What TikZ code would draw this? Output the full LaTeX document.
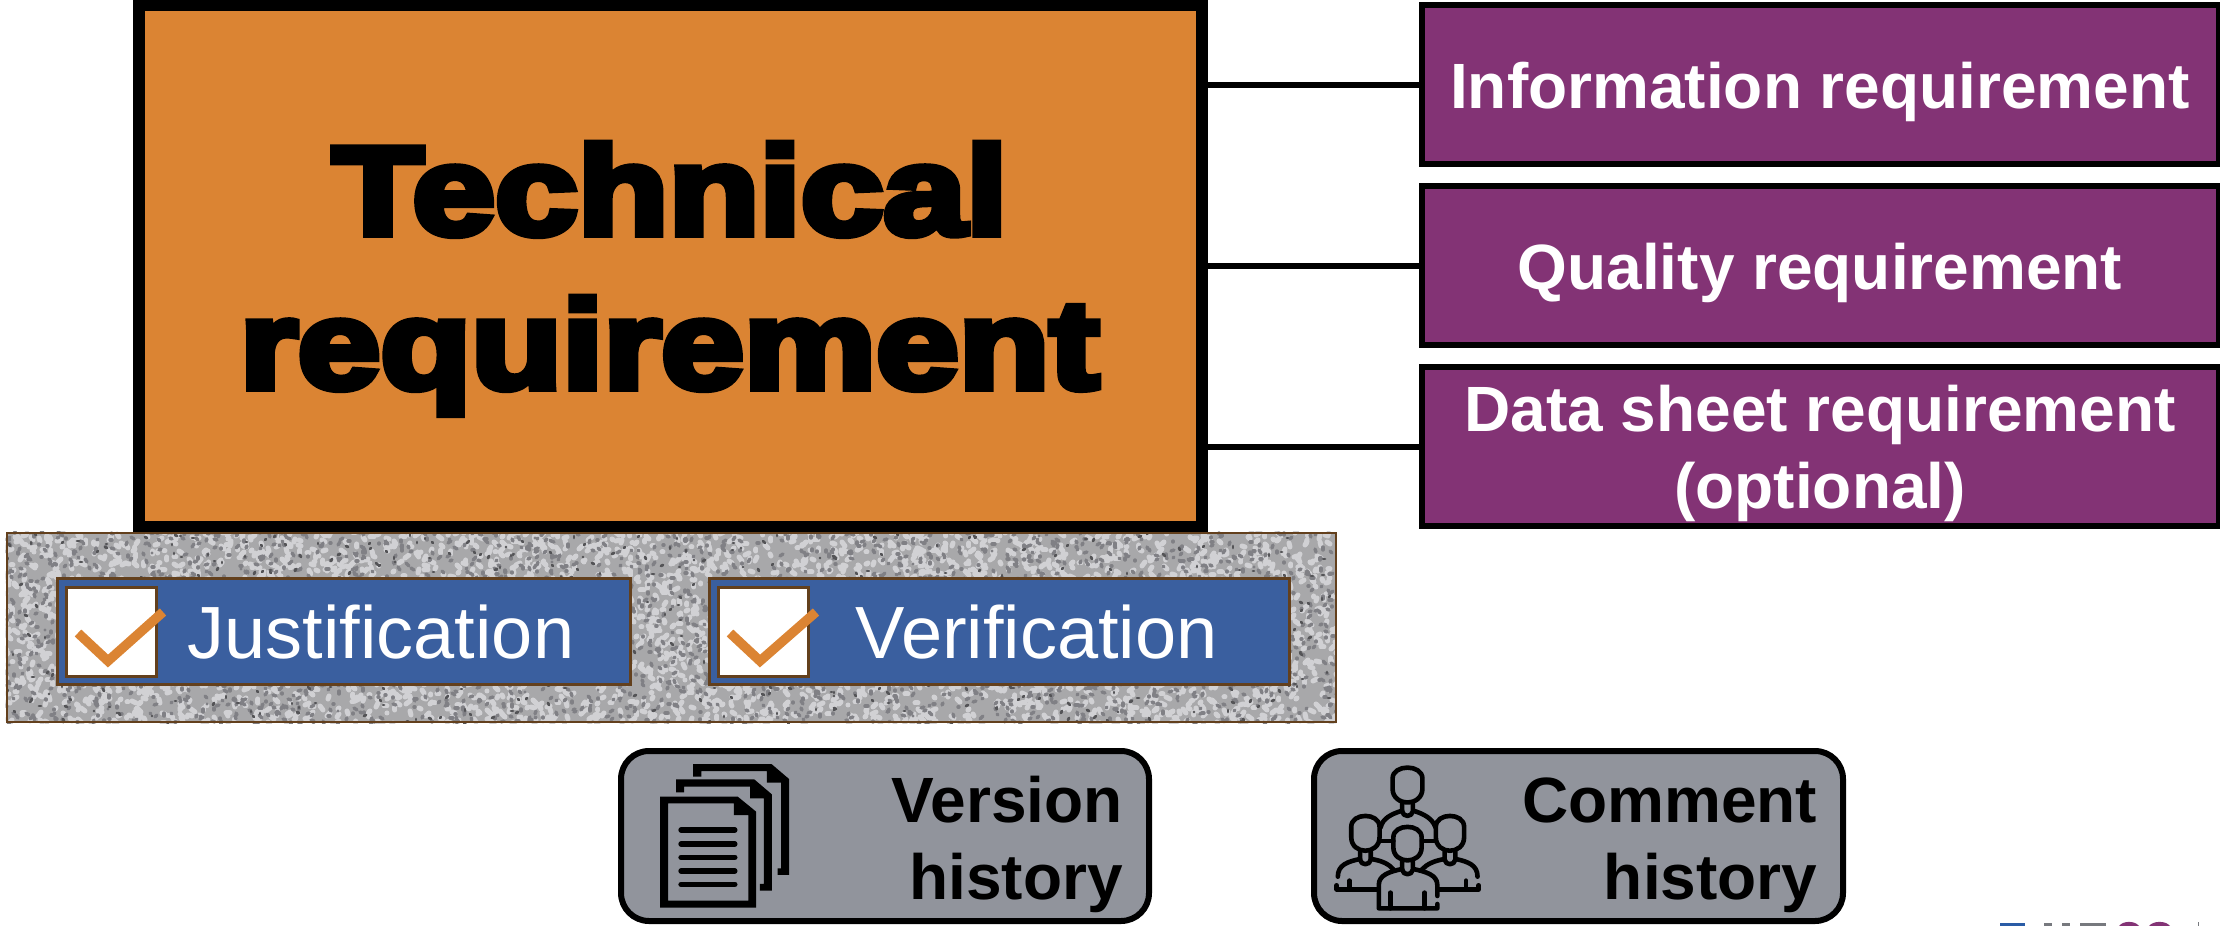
\documentclass[tikz,border=0pt]{standalone}
\usepackage{fontspec}
\usepackage{graphicx}
\setmainfont{Liberation Sans}
\newfontfamily\heavyfont[FakeBold=5.5]{Liberation Sans Bold}
\definecolor{orangefill}{HTML}{DB8433}
\definecolor{purplefill}{HTML}{833375}
\definecolor{bluefill}{HTML}{3A5F9F}
\definecolor{brownline}{HTML}{63401D}
\definecolor{grayfill}{HTML}{91949C}
\definecolor{granitebase}{HTML}{A8A8AA}
\definecolor{logoblue}{HTML}{2A5CA6}
\definecolor{logogray}{HTML}{77797E}
% compact pseudo-random speckle, written as raw page marks
\makeatletter
\let\rawmark\pgfsys@invoke
\makeatother
\newcount\rngA \newcount\rngB \newcount\rngT \newcount\rngR
\newcount\blobX \newcount\blobY \newcount\blobU \newcount\blobV \newcount\blobI
\rngA=12345 \rngB=2222
\def\modreg#1#2{\rngT=#1 \divide\rngT by #2 \multiply\rngT by #2 \advance#1 by -\rngT}
\def\rngnext#1#2{%
  \multiply\rngA by 171 \modreg\rngA{30269}%
  \multiply\rngB by 172 \modreg\rngB{30307}%
  \rngR=\numexpr\rngA+\rngB\relax \modreg\rngR{30000}%
  #1=\numexpr\rngR*#2/30000\relax}
% #1 count, #2 stroke colour, #3 width, #4 max displacement
\def\speckle#1#2#3#4{%
  \rawmark{q 0.99626 0 0 0.99626 0 0 cm 1 J 1 j #2 RG #3 w}%
  \blobI=0
  \loop\ifnum\blobI<#1
    \rngnext\blobX{1336}\rngnext\blobY{192}\rngnext\blobU{#4}\rngnext\blobV{#4}%
    \advance\blobU by -\numexpr#4/2\relax
    \advance\blobV by -\numexpr#4/2\relax
    \rawmark{\the\blobX\space -\the\numexpr\blobY+532\relax\space m \the\numexpr\blobX+\blobU\relax\space -\the\numexpr\blobY+532+\blobV\relax\space l S}%
    \advance\blobI by 1
  \repeat
  \rawmark{Q}}
\tikzset{
  x=1pt,y=-1pt,
  techbox/.style={draw=black,fill=orangefill,line width=11.5pt,rectangle,inner sep=0pt,minimum width=1063pt,minimum height=521pt},
  reqbox/.style={draw=black,fill=purplefill,line width=6pt,rectangle,inner sep=0pt,minimum width=797pt,minimum height=158.5pt,text=white,font=\bfseries\fontsize{64}{77.5}\selectfont,align=center},
  link/.style={draw=black,line width=6pt},
  granitebox/.style={draw=brownline,line width=2pt,rectangle,inner sep=0pt,minimum width=1329pt,minimum height=189.5pt},
  flagbox/.style={draw=brownline,fill=bluefill,line width=3pt,rectangle,inner sep=0pt,minimum height=106pt},
  checkbox/.style={draw=brownline,fill=white,line width=3pt,rectangle,inner sep=0pt,minimum width=90pt,minimum height=89pt},
  checkmark/.style={draw=orangefill,line width=9.5pt,miter limit=10},
  flagtext/.style={text=white,font=\fontsize{74}{80}\selectfont,inner sep=0pt,anchor=base},
  histbox/.style={draw=black,fill=grayfill,line width=6pt,rectangle,rounded corners=28pt,inner sep=0pt,minimum height=170pt},
  histtext/.style={text=black,font=\bfseries\fontsize{64}{77}\selectfont,align=right,inner sep=0pt,anchor=base east},
  personline/.style={draw=black,line width=4.6pt,line cap=round,line join=round},
  headline/.style={inner sep=0pt,anchor=base},
}
\begin{document}
\begin{tikzpicture}
\useasboundingbox (0,0) rectangle (2220,926);
\node[granitebox,fill=granitebase] (granite) at (671,627.7) {};
\begin{scope}
  \clip (granite.south west) rectangle (granite.north east);
  \speckle{3900}{0.82 0.82 0.83}{5}{8}
  \speckle{2600}{0.50 0.50 0.52}{3.4}{6}
  \speckle{600}{0.33 0.33 0.34}{2.8}{4}
\end{scope}
\node[granitebox] (graniteedge) at (671,627.7) {};
\node[techbox] (tech) at (670.5,266) {};
\node[reqbox,text height=48pt,text depth=0pt] (info) at (1820,84.6) {Information requirement};
\node[reqbox,text height=48pt,text depth=0pt] (qual) at (1820,265.5) {Quality requirement};
\node[reqbox,text height=124pt,text depth=0pt] (data) at (1820,446.5) {Data sheet requirement\\(optional)};
\draw[link] (info.west) -- (info.west -| tech.east);
\draw[link] (qual.west) -- (qual.west -| tech.east);
\draw[link] (data.west) -- (data.west -| tech.east);
% heading
\node[headline] (techline1) at (670,234.5) {\scalebox{1.18}[1.0]{\heavyfont\fontsize{126}{126}\selectfont Technical}};
\node[headline] (techline2) at (669.5,388.5) {\scalebox{1.18}[1.0]{\heavyfont\fontsize{126}{126}\selectfont requirement}};
% flags
\node[flagbox,minimum width=573.5pt] (just) at (344.2,631.5) {};
\node[flagbox,minimum width=580.5pt] (veri) at (999.7,631.5) {};
\node[checkbox] (jc) at (111,631.5) {};
\node[checkbox] (vc) at (763.5,631.5) {};
\coordinate (ja) at (78,633); \coordinate (jb) at (108,661); \coordinate (jd) at (163,612);
\coordinate (va) at (730,633); \coordinate (vb) at (760,661); \coordinate (vd) at (816,612);
\draw[checkmark] (ja) -- (jb) -- (jd);
\draw[checkmark] (va) -- (vb) -- (vd);
\node[flagtext] (justtext) at (381,658) {Justification};
\node[flagtext] (veritext) at (1036.7,658) {Verification};
% history boxes
\node[histbox,minimum width=528pt] (vers) at (885,836) {};
\node[histbox,minimum width=529pt] (comm) at (1578.5,836) {};
\node[histtext] (verstext) at (1123,899) {Version\\history};
\node[histtext] (commtext) at (1817.5,899) {Comment\\history};
% document icon
\begin{scope}[shift={(600,740)},x=0.3827pt,y=-0.3333pt]
  \fill[black,even odd rule] (157,170) -- (360,170) -- (408,215) -- (408,503) -- (157,503) -- cycle
     (178,190) -- (350,190) -- (350,225) -- (388,225) -- (388,482) -- (178,482) -- cycle;
  \fill[black] (199,118) -- (403,118) -- (449,163) -- (449,452) -- (418,452) -- (418,432) -- (428,432) -- (428,175) -- (392,175) -- (392,140) -- (220,140) -- (220,157) -- (199,157) -- cycle;
  \fill[black] (243,72) -- (448,72) -- (494,117) -- (494,405) -- (464,405) -- (464,385) -- (473,385) -- (473,128) -- (436,128) -- (436,93) -- (265,93) -- (265,110) -- (243,110) -- cycle;
  \foreach \yy in {270,312,352,393,433}
    \draw[black,line width=5.6pt,line cap=round] (212,\yy) -- (352,\yy);
\end{scope}
% people icon
\begin{scope}[shift={(1290,740)},x=0.3827pt,y=-0.3333pt]
  \foreach \cx/\cy/\rx/\ry in {307/135/39/55,197/280/37/55,418/280/37/55,307/311/37/53}{
    \draw[personline] (\cx-\rx,\cy-\ry*0.35) .. controls (\cx-\rx,\cy-\ry*1.15) and (\cx+\rx,\cy-\ry*1.15) .. (\cx+\rx,\cy-\ry*0.35)
      -- (\cx+\rx,\cy+\ry*0.2) .. controls (\cx+\rx,\cy+\ry*1.2) and (\cx-\rx,\cy+\ry*1.2) .. (\cx-\rx,\cy+\ry*0.2) -- cycle;
  }
  \foreach \cx/\ya in {307/190,197/335,418/335,307/365}{
    \draw[personline] (\cx-14,\ya) -- (\cx-14,\ya+24) .. controls (\cx-12,\ya+42) and (\cx+12,\ya+42) .. (\cx+14,\ya+24) -- (\cx+14,\ya);
  }
  \draw[personline] (237,262) .. controls (242,235) and (265,222) .. (293,212);
  \draw[personline] (322,212) .. controls (350,222) and (372,235) .. (380,262);
  \draw[personline] (235,303) -- (270,303);
  \draw[personline] (345,303) -- (380,303);
  \draw[personline] (125,410) .. controls (125,375) and (150,365) .. (183,357);
  \draw[personline] (212,357) .. controls (240,362) and (258,372) .. (270,388);
  \draw[personline] (345,388) .. controls (358,372) and (378,362) .. (404,357);
  \draw[personline] (433,357) .. controls (465,365) and (490,375) .. (490,410);
  \draw[personline] (122,436) -- (122,448) -- (230,448);
  \draw[personline] (155,422) -- (155,448);
  \draw[personline] (493,436) -- (493,448) -- (385,448);
  \draw[personline] (460,422) -- (460,448);
  \draw[personline] (293,387) .. controls (260,395) and (232,405) .. (232,435) -- (232,505) -- (385,505) -- (385,492);
  \draw[personline] (322,387) .. controls (355,395) and (385,405) .. (385,435) -- (385,468);
  \draw[personline] (262,458) -- (262,505);
  \draw[personline] (352,458) -- (352,505);
\end{scope}
% fragments of the logo cut off by the lower edge
\fill[logoblue] (2000,922.5) rectangle (2025,926);
\fill[logogray] (2044,923) rectangle (2052,926);
\fill[logogray] (2062,923) rectangle (2070,926);
\fill[logogray] (2080,923) rectangle (2106,926);
\fill[purplefill] (2119,926) .. controls (2123,920.5) and (2135,920.5) .. (2139,926) -- cycle;
\fill[purplefill] (2149,926) .. controls (2153,920.5) and (2166,920.5) .. (2170,926) -- cycle;
\fill[logogray] (2198,922) rectangle (2199,926);
\end{tikzpicture}
\end{document}
